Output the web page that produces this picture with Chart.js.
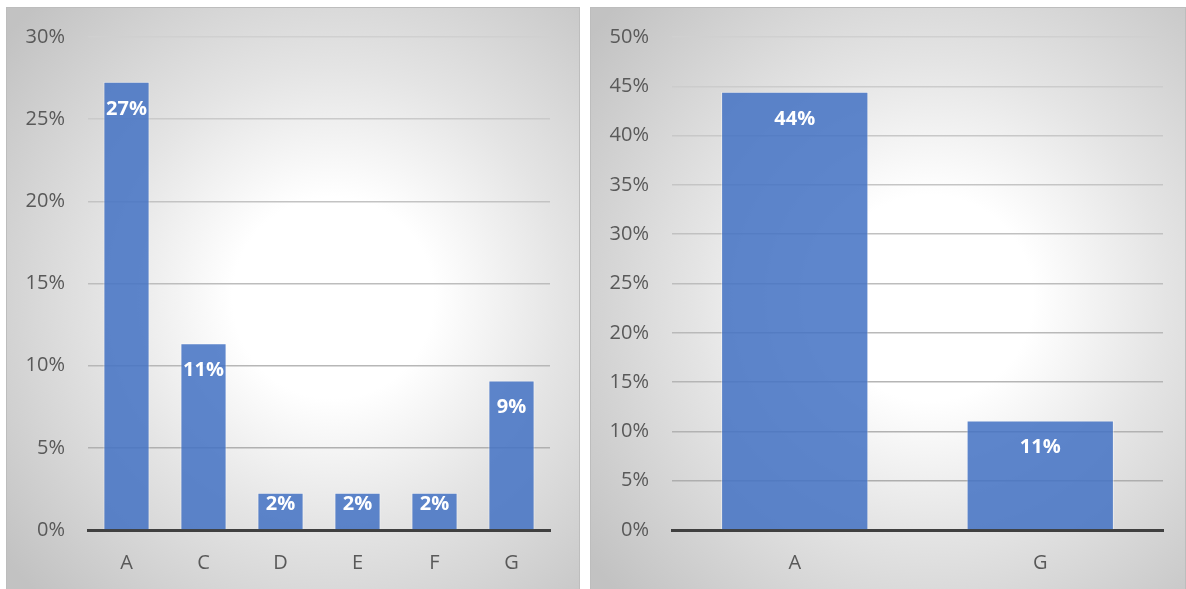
<!DOCTYPE html>
<html>
<head>
<meta charset="utf-8">
<script src="https://cdn.jsdelivr.net/npm/chart.js@4.4.1/dist/chart.umd.min.js"></script>
<style>
  html, body { margin: 0; padding: 0; background: #ffffff; }
  body { width: 1186px; height: 589px; position: relative; overflow: hidden; }
  .panel { position: absolute; top: 7px; height: 582px; }
  #leftPanel { left: 6px; width: 574px; }
  #rightPanel { left: 590px; width: 596px; }
  canvas { display: block; }
</style>
</head>
<body>
<div class="panel" id="leftPanel"><canvas id="leftChart" width="574" height="582"></canvas></div>
<div class="panel" id="rightPanel"><canvas id="rightChart" width="596" height="582"></canvas></div>
<script>
// Share of each group (left) and of the two main groups (right)
const leftCategories = ['A', 'C', 'D', 'E', 'F', 'G'];
const leftValues = [0.2727, 0.1136, 0.0227, 0.0227, 0.0227, 0.0909];
const leftAxisMax = 0.30;

const rightCategories = ['A', 'G'];
const rightValues = [0.4444, 0.1111];
const rightAxisMax = 0.50;

const tickStep = 0.05;

const FONT = "'Open Sans', 'DejaVu Sans', sans-serif";
const pct = v => Math.round(v * 100) + '%';

// Soft radial backdrop behind each panel, with a thin frame
const backdrop = {
  id: 'backdrop',
  beforeDraw(chart) {
    const { ctx, width, height } = chart;
    const cx = width * 0.57, cy = height * 0.50;
    const g = ctx.createRadialGradient(cx, cy, 0, cx, cy, Math.max(width, height) * 0.72);
    g.addColorStop(0, '#ffffff');
    g.addColorStop(0.24, '#ffffff');
    g.addColorStop(0.55, '#e4e4e4');
    g.addColorStop(1, '#c2c2c2');
    ctx.save();
    ctx.fillStyle = g;
    ctx.fillRect(0, 0, width, height);
    ctx.strokeStyle = '#bdbdbd';
    ctx.lineWidth = 1;
    ctx.strokeRect(0.5, 0.5, width - 1, height + 2);
    ctx.restore();
  }
};

// Value labels drawn just inside the top of each bar
const barLabels = {
  id: 'barLabels',
  afterDatasetsDraw(chart) {
    const { ctx } = chart;
    const meta = chart.getDatasetMeta(0);
    const values = chart.data.datasets[0].data;
    ctx.save();
    ctx.fillStyle = '#ffffff';
    ctx.font = 'bold 20px ' + FONT;
    ctx.textAlign = 'center';
    ctx.textBaseline = 'middle';
    meta.data.forEach((bar, i) => {
      const y = Math.min(bar.y + 27, bar.base - 25);
      ctx.fillText(pct(values[i]), bar.x, y);
    });
    ctx.restore();
  }
};

// Gridlines fade slightly towards the top of the plot
function gridShade(ctx) {
  const ticks = ctx.scale.ticks;
  const f = ticks.length > 1 ? ctx.index / (ticks.length - 1) : 0;
  const c = Math.round(0xaa + (0xd0 - 0xaa) * f);
  return `rgb(${c}, ${c}, ${c})`;
}

function makeChart(id, categories, values, axisMax, rightPad) {
  return new Chart(document.getElementById(id), {
    type: 'bar',
    data: {
      labels: categories,
      datasets: [{
        data: values,
        backgroundColor: 'rgba(68, 114, 196, 0.86)',
        borderColor: 'rgba(255, 255, 255, 0.45)',
        borderWidth: 1,
        categoryPercentage: 1.0,
        barPercentage: 0.6
      }]
    },
    options: {
      responsive: false,
      devicePixelRatio: 1,
      animation: false,
      layout: { padding: { top: 30, right: rightPad, left: 0, bottom: 0 } },
      plugins: {
        legend: { display: false },
        tooltip: { enabled: false }
      },
      scales: {
        x: {
          grid: { display: false, drawTicks: false },
          border: { display: true, color: '#404040', width: 3 },
          ticks: {
            color: '#595959',
            font: { family: FONT, size: 20 },
            padding: 21
          },
          afterFit(scale) { scale.height = 59; }
        },
        y: {
          min: 0,
          max: axisMax,
          grid: { color: gridShade, lineWidth: 1.5, drawTicks: false },
          border: { display: false },
          ticks: {
            stepSize: tickStep,
            color: '#595959',
            font: { family: FONT, size: 20 },
            padding: 23,
            callback: v => pct(v)
          },
          afterFit(scale) {
            scale.width = 82;
            scale.paddingTop = 0;
            scale.paddingBottom = 0;
          }
        }
      }
    },
    plugins: [backdrop, barLabels]
  });
}

makeChart('leftChart', leftCategories, leftValues, leftAxisMax, 30);
makeChart('rightChart', rightCategories, rightValues, rightAxisMax, 23);
</script>
</body>
</html>
